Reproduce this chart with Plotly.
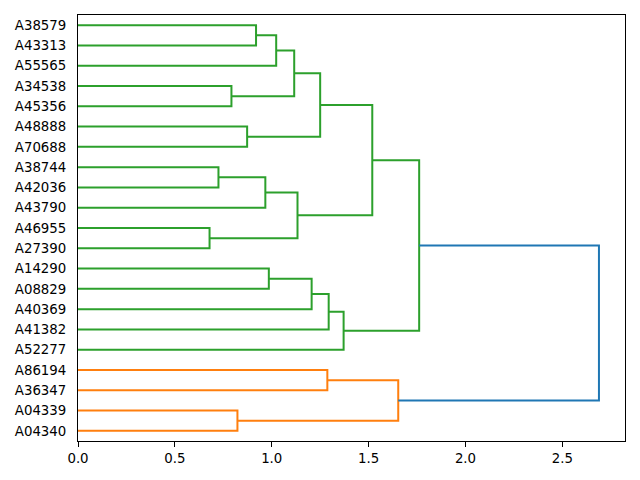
import plotly.graph_objects as go

# Leaves, top to bottom
leaves = ["A38579", "A43313", "A55565", "A34538", "A45356", "A48888", "A70688",
          "A38744", "A42036", "A43790", "A46955", "A27390", "A14290", "A08829",
          "A40369", "A41382", "A52277", "A86194", "A36347", "A04339", "A04340"]

# Merges: (child_a, child_b, height, new_cluster_name, colour group)
merge_a = ["A38579", "c1", "A34538", "c2", "A48888", "c4", "A38744", "c6", "A46955", "c7",
           "c5", "A14290", "c10", "c11", "c12", "c9", "A86194", "A04339", "c15", "c14"]
merge_b = ["A43313", "A55565", "A45356", "c3", "A70688", "c5_", "A42036", "A43790", "A27390", "c8",
           "c7b", "A08829", "A40369", "A41382", "A52277", "c13", "A36347", "A04340", "c16", "c17"]
heights = [0.919, 1.023, 0.792, 1.116, 0.873, 1.250, 0.725, 0.967, 0.679, 1.133,
           1.519, 0.985, 1.206, 1.294, 1.371, 1.761, 1.287, 0.823, 1.653, 2.689]
names = ["c1", "c2", "c3", "c4", "c5_", "c5", "c6", "c7", "c8", "c7b",
         "c9", "c10", "c11", "c12", "c13", "c14", "c15", "c16", "c17", "root"]
groups = ["g", "g", "g", "g", "g", "g", "g", "g", "g", "g",
          "g", "g", "g", "g", "g", "g", "o", "o", "o", "b"]

colours = {"g": "#2ca02c", "o": "#ff7f0e", "b": "#1f77b4"}

n = len(leaves)
# scipy-style leaf positions: bottom leaf at 5, step 10
pos = {lab: 10 * (n - 1 - i) + 5 for i, lab in enumerate(leaves)}
hgt = {lab: 0.0 for lab in leaves}

fig = go.Figure()
for a, b, h, nm, g in zip(merge_a, merge_b, heights, names, groups):
    ya, yb = pos[a], pos[b]
    xa, xb = hgt[a], hgt[b]
    fig.add_trace(go.Scatter(
        x=[xa, h, h, xb], y=[ya, ya, yb, yb], mode="lines",
        line=dict(color=colours[g], width=2), showlegend=False, hoverinfo="skip"))
    pos[nm] = (ya + yb) / 2
    hgt[nm] = h

xmax = max(heights) * 1.05
# page body has an 8px margin, so the figure is 8px smaller each way
fig.update_layout(
    width=632, height=472,
    margin=dict(l=70, r=15, t=7, b=39),
    plot_bgcolor="white", paper_bgcolor="white",
    font=dict(family="DejaVu Sans", size=13.33, color="black"),
    showlegend=False,
)
fig.update_xaxes(range=[0, xmax], tickvals=[0, 0.5, 1.0, 1.5, 2.0, 2.5], tickformat=".1f",
                 showgrid=False, zeroline=False, showline=True, mirror=True, automargin=False,
                 linecolor="black", linewidth=1, ticks="outside", ticklen=5,
                 tickcolor="black", tickfont=dict(size=13.33, color="black"))
fig.update_yaxes(range=[0, 10 * n], tickvals=[pos[l] for l in leaves], ticktext=leaves,
                 showgrid=False, zeroline=False, showline=True, mirror=True, automargin=False,
                 linecolor="black", linewidth=1, ticks="outside", ticklen=8,
                 tickcolor="rgba(0,0,0,0)", tickfont=dict(size=13.33, color="black"))
fig.write_html("out.html")
